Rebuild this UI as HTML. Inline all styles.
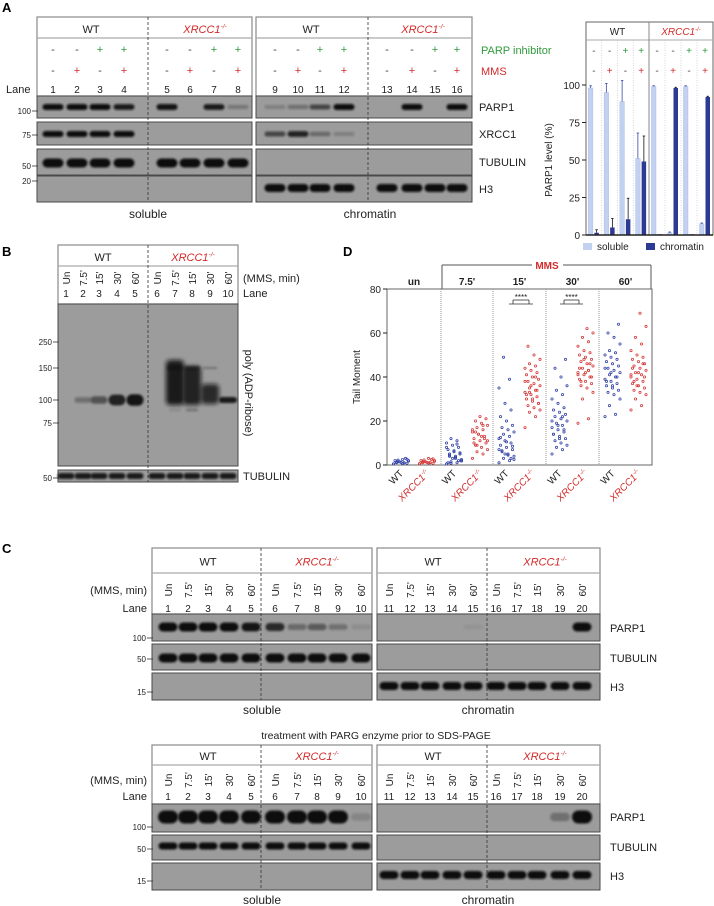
<!DOCTYPE html>
<html><head><meta charset="utf-8"><style>
html,body{margin:0;padding:0;background:#fff;}
svg{display:block;font-family:"Liberation Sans",Arial,sans-serif;}
</style></head><body>
<svg id="fig" width="714" height="906" viewBox="0 0 714 906" xmlns="http://www.w3.org/2000/svg">
<defs>
<filter id="blur" x="-30%" y="-80%" width="160%" height="260%"><feGaussianBlur stdDeviation="1.1"/></filter>
<filter id="blur2" x="-30%" y="-30%" width="160%" height="160%"><feGaussianBlur stdDeviation="2.2"/></filter>
</defs>
</svg>
<script>
// ---- bar chart data (panel A right) ----
const barGroups = ['WT - -','WT - +','WT + -','WT + +','XRCC1 - -','XRCC1 - +','XRCC1 + -','XRCC1 + +'];
const solubleVals = [98, 95, 89, 51, 99, 1.5, 99, 7.5];
const chromatinVals = [1.5, 5, 10.5, 49, 0.5, 98, 0.5, 92];
const solubleErr = [1.5, 6, 14, 17, 0.5, 0.5, 0.5, 0.5];
const chromatinErr = [2, 6, 14, 17, 0, 0.5, 0, 0.5];
const barTicks = [0, 25, 50, 75, 100];
// ---- scatter data (panel D) ----
const tmGroups = ['un', "7.5'", "15'", "30'", "60'"];
const tmTicks = [0, 20, 40, 60, 80];
const unWT = [0.5,1,1.5,2,2.5,1,0.8,1.2,2,3,1.5,0.5,1,2.2,1.8,0.7,1.3,2.6];
const unX = [0.5,1,1.5,2,3,1,0.8,1.2,2,2.5,1.5,0.6,1.1,2.3,1.7,0.9,1.4,2.8];
const m7WT = [0.5,1,1.5,2,3,4,5,6,7,8,9,10,11,12,2.5,3.5,4.5,5.5,6.5,1,2,3,8,9.5,0.8,1.8,4,5];
const m7X = [3,5,6,7,8,9,10,11,12,13,14,15,16,17,18,19,20,21,22,10,12,14,16,18,9,11,13,15];
const m15WT = [1,2,3,4,5,6,7,8,9,10,11,12,13,14,15,16,17,18,20,22,25,28,35,39,49,2.5,4.5,6.5,8.5,10.5,12.5,3,5,7];
const m15X = [17,22,24,25,26,27,28,29,30,31,32,33,34,35,36,37,38,39,40,41,42,43,44,45,46,48,50,54,28,30,32,34,36,38,40,33];
const m30WT = [5,7,8,9,10,11,12,13,14,15,16,17,18,19,20,21,22,23,24,25,26,28,30,32,34,36,40,44,48,12,14,16,18,20,22];
const m30X = [19,21,30,33,35,36,37,38,39,40,41,42,43,44,45,46,47,48,49,50,51,52,54,56,58,60,62,38,40,42,44,46,48,41,43];
const m60WT = [22,23,27,30,32,33,34,35,36,37,38,39,40,41,42,43,44,45,46,47,48,49,50,51,52,55,58,60,64,36,38,40,42,44];
const m60X = [25,27,30,32,33,34,35,36,37,38,39,40,41,42,43,44,45,46,47,48,49,50,52,55,58,63,69,38,40,42,44,46,36,41];

const NS = 'http://www.w3.org/2000/svg';
const svg = document.getElementById('fig');
function mk(tag, attrs, name, interact) {
  const el = document.createElementNS(NS, tag);
  for (const k in attrs) el.setAttribute(k, attrs[k]);
  
  
  svg.appendChild(el);
  return el;
}
function txt(x, y, s, name, o) {
  o = o || {};
  const a = {x: x, y: y, 'font-size': o.fs || 11, 'text-anchor': o.a || 'middle', fill: o.c || '#222'};
  if (o.w) a['font-weight'] = o.w;
  if (o.rot !== undefined) a.transform = 'rotate(' + o.rot + ' ' + x + ' ' + y + ')';
  const el = mk('text', a, name);
  el.textContent = s;
  return el;
}
function xr(x, y, name, fs, o) {
  o = o || {};
  const a = {x: x, y: y, 'font-size': fs || 11, 'text-anchor': o.a || 'middle', fill: '#d42a2a', 'font-style': 'italic'};
  if (o.rot !== undefined) a.transform = 'rotate(' + o.rot + ' ' + x + ' ' + y + ')';
  const el = mk('text', a, name);
  const t1 = document.createElementNS(NS, 'tspan'); t1.textContent = 'XRCC1';
  const t2 = document.createElementNS(NS, 'tspan'); t2.textContent = '-/-';
  t2.setAttribute('font-size', (fs || 11) * 0.6); t2.setAttribute('dy', -(fs || 11) * 0.4);
  el.appendChild(t1); el.appendChild(t2);
  return el;
}
function line(x1, y1, x2, y2, name, st, w, dash) {
  const a = {x1: x1, y1: y1, x2: x2, y2: y2, stroke: st || '#444', 'stroke-width': w || 1};
  if (dash) a['stroke-dasharray'] = dash;
  return mk('line', a, name);
}
function headerBox(x1, x2, yT, yL, yB, name) {
  mk('rect', {x: x1, y: yT, width: x2 - x1, height: yB - yT, fill: '#fff', stroke: '#8a8a8a', 'stroke-width': 1.2}, name);
  line(x1, yL, x2, yL, name + '-divider', '#aaa', 1.2);
}
function blot(x1, y1, x2, y2, name) {
  mk('rect', {x: x1, y: y1, width: x2 - x1, height: y2 - y1, fill: '#9c9c9c', stroke: '#4a4a4a', 'stroke-width': 1}, name);
}
function band(cx, cy, w, h, op, name) {
  if (op <= 0) return;
  mk('rect', {x: cx - w / 2, y: cy - h / 2, width: w, height: h, rx: h / 2, fill: '#111', opacity: op, filter: 'url(#blur)'}, name);
}
function mw(x, y, s, name) {
  txt(x - 6, y + 3, s, name, {fs: 8, a: 'end'});
  line(x - 5, y, x + 1, y, name + '-tick', '#333', 0.8);
}

// ================= PANEL A =================
txt(2, 12, 'A', 'panel-a-label', {fs: 13, w: 'bold', a: 'start', c: '#000'});
headerBox(37, 252, 17, 38, 96, 'a-soluble-header');
headerBox(256, 472, 17, 38, 96, 'a-chromatin-header');
txt(91, 33, 'WT', 'a-wt-soluble');
xr(205, 33, 'a-xrcc1-soluble');
txt(311, 33, 'WT', 'a-wt-chromatin');
xr(423, 33, 'a-xrcc1-chromatin');
const lanesA = [53,77,100,124,167,190,214,238,275,298,320,344,387,412,435,457];
lanesA.forEach((x, i) => {
  const p = (i % 4) >= 2, m = (i % 2) === 1;
  txt(x, 53, p ? '+' : '-', 'a-parpi-sign', {fs: 11, c: p ? '#2f9a3c' : '#444'});
  txt(x, 74, m ? '+' : '-', 'a-mms-sign', {fs: 11, c: m ? '#d42a2a' : '#444'});
  txt(x, 93, String(i + 1), 'a-lane-number', {fs: 10});
});
txt(6, 93, 'Lane', 'a-lane-label', {a: 'start'});
txt(481, 54, 'PARP inhibitor', 'a-parp-inhibitor-label', {a: 'start', c: '#2f9a3c'});
txt(481, 75, 'MMS', 'a-mms-label', {a: 'start', c: '#d42a2a'});
const rowsA = [[96,118],[122,145],[149,175],[176,202]];
rowsA.forEach((r, k) => {
  blot(37, r[0], 252, r[1], 'a-blot-soluble');
  blot(256, r[0], 472, r[1], 'a-blot-chromatin');
});
const bandA = [
  {y: 107, h: 6, v: [1,1,1,.9,.95,0,.9,.25,.2,.3,.6,1,0,1,0,1], n: 'a-parp1-band'},
  {y: 134, h: 6, v: [1,1,1,1,0,0,0,0,.6,.85,.35,.2,0,0,0,0], n: 'a-xrcc1-band'},
  {y: 163, h: 9, v: [1,1,1,1,1,1,1,1,0,0,0,0,0,0,0,0], n: 'a-tubulin-band'},
  {y: 188, h: 8, v: [0,0,0,0,0,0,0,0,1,1,1,1,1,1,1,1], n: 'a-h3-band'}
];
bandA.forEach(b => lanesA.forEach((x, i) => band(x, b.y, 21, b.h * (0.6 + 0.4 * b.v[i]), b.v[i], b.n)));
line(148, 17, 148, 202, 'a-divider-soluble', '#333', 0.8, '3,2');
line(368, 17, 368, 202, 'a-divider-chromatin', '#333', 0.8, '3,2');
txt(479, 111, 'PARP1', 'a-parp1-label', {a: 'start'});
txt(479, 138, 'XRCC1', 'a-xrcc1-label', {a: 'start'});
txt(479, 166, 'TUBULIN', 'a-tubulin-label', {a: 'start'});
txt(479, 193, 'H3', 'a-h3-label', {a: 'start'});
mw(37, 111, '100', 'a-mw-100'); mw(37, 135, '75', 'a-mw-75'); mw(37, 166, '50', 'a-mw-50'); mw(37, 181, '20', 'a-mw-20');
txt(148, 218, 'soluble', 'a-soluble-label', {fs: 12});
txt(370, 218, 'chromatin', 'a-chromatin-label', {fs: 12});

// ---- bar chart ----
const bX0 = 586, bX1 = 713, bMid = 649, bY0 = 235, bY100 = 85;
function by(v) { return bY0 - (v / 100) * (bY0 - bY100); }
function bcx(i) { return i < 4 ? bX0 + (i + 0.5) * (bMid - bX0) / 4 : bMid + (i - 4 + 0.5) * (bX1 - bMid) / 4; }
mk('rect', {x: bX0, y: 22, width: bX1 - bX0, height: bY0 - 22, fill: '#fff', stroke: '#666', 'stroke-width': 1}, 'bar-plot-frame');
line(bX0, 40, bX1, 40, 'bar-header-divider', '#aaa', 1);
line(bMid, 22, bMid, bY0, 'bar-genotype-divider', '#888', 1);
for (let i = 1; i < 8; i++) if (i !== 4) line((bcx(i - 1) + bcx(i)) / 2, 40, (bcx(i - 1) + bcx(i)) / 2, bY0, 'bar-group-gridline', '#bbb', 0.6, '1,1.5');
txt((bX0 + bMid) / 2, 35, 'WT', 'bar-wt-header', {fs: 10});
xr((bMid + bX1) / 2, 35, 'bar-xrcc1-header', 10);
barGroups.forEach((g, i) => {
  const p = (i % 4) >= 2, m = (i % 2) === 1;
  txt(bcx(i), 54, p ? '+' : '-', 'bar-parpi-sign', {fs: 10, c: p ? '#2f9a3c' : '#444'});
  txt(bcx(i), 74, m ? '+' : '-', 'bar-mms-sign', {fs: 10, c: m ? '#d42a2a' : '#444'});
  const xs = bcx(i) - 5.5, xc = bcx(i) + 0.5;
  mk('rect', {x: xs, y: by(solubleVals[i]), width: 4.5, height: bY0 - by(solubleVals[i]), fill: '#c3d1f0', stroke: '#9fb3e3', 'stroke-width': 0.4}, 'bar-soluble');
  mk('rect', {x: xc, y: by(chromatinVals[i]), width: 4.5, height: bY0 - by(chromatinVals[i]), fill: '#2c3a94'}, 'bar-chromatin');
  if (solubleErr[i] > 0.2) {
    line(xs + 2.25, by(solubleVals[i]), xs + 2.25, by(solubleVals[i] + solubleErr[i]), 'bar-soluble-error', '#3b4ba8', 0.8);
    line(xs + 1, by(solubleVals[i] + solubleErr[i]), xs + 3.5, by(solubleVals[i] + solubleErr[i]), 'bar-soluble-error-cap', '#3b4ba8', 0.8);
  }
  if (chromatinErr[i] > 0.2) {
    line(xc + 2.25, by(chromatinVals[i]), xc + 2.25, by(chromatinVals[i] + chromatinErr[i]), 'bar-chromatin-error', '#111', 0.8);
    line(xc + 1, by(chromatinVals[i] + chromatinErr[i]), xc + 3.5, by(chromatinVals[i] + chromatinErr[i]), 'bar-chromatin-error-cap', '#111', 0.8);
  }
});
line(bX0, bY0, bX1, bY0, 'bar-x-axis', '#222', 1.5);
barTicks.forEach(t => {
  line(bX0 - 4, by(t), bX0, by(t), 'bar-y-tick', '#222', 1);
  txt(bX0 - 6, by(t) + 4, String(t), 'bar-y-tick-label', {fs: 10, a: 'end'});
});
txt(552, 160, 'PARP1 level (%)', 'bar-y-axis-title', {fs: 10, rot: -90});
mk('rect', {x: 583, y: 243, width: 9, height: 7, fill: '#c3d1f0'}, 'legend-soluble-swatch');
txt(597, 250, 'soluble', 'legend-soluble-label', {fs: 10, a: 'start'});
mk('rect', {x: 646, y: 243, width: 9, height: 7, fill: '#2c3a94'}, 'legend-chromatin-swatch');
txt(660, 250, 'chromatin', 'legend-chromatin-label', {fs: 10, a: 'start'});

// ================= PANEL B =================
txt(2, 256, 'B', 'panel-b-label', {fs: 13, w: 'bold', a: 'start', c: '#000'});
headerBox(58, 238, 245, 266, 304, 'b-header');
txt(103, 261, 'WT', 'b-wt-header');
xr(193, 261, 'b-xrcc1-header');
const times = ['Un', "7.5'", "15'", "30'", "60'"];
const lanesB = [66,83,99,117,135,157,175,192,210,228];
lanesB.forEach((x, i) => {
  txt(x + 4, 278, times[i % 5], 'b-time-label', {fs: 10, rot: -90});
  txt(x, 297, String(i + 1), 'b-lane-number', {fs: 10});
});
txt(243, 282, '(MMS, min)', 'b-mms-label', {a: 'start'});
txt(243, 297, 'Lane', 'b-lane-label', {a: 'start'});
blot(58, 304, 238, 466, 'b-par-blot');
blot(58, 470, 238, 482, 'b-tubulin-blot');
const parB = [0, .3, .5, .85, .95];
parB.forEach((v, i) => band(lanesB[i], 400, 17, 3 + 9 * v, v, 'b-par-band'));
[[175, 360, 45], [192, 366, 39], [210, 384, 20]].forEach((s, k) => {
  mk('rect', {x: s[0] - 9, y: s[1], width: 18, height: s[2], rx: 4, fill: '#111', opacity: 0.9 - k * 0.05, filter: 'url(#blur2)'}, 'b-par-smear');
});
band(175, 368, 16, 3, .6, 'b-par-band-150'); band(192, 368, 16, 3, .6, 'b-par-band-150'); band(210, 368, 14, 2, .3, 'b-par-band-150');
band(175, 410, 12, 2, .15, 'b-par-faint'); band(192, 410, 12, 3, .25, 'b-par-faint');
band(228, 400, 18, 6, .9, 'b-par-band');
lanesB.forEach(x => band(x, 476, 17, 6, .9, 'b-tubulin-band'));
line(148, 245, 148, 482, 'b-divider', '#333', 0.8, '3,2');
mw(58, 342, '250', 'b-mw-250'); mw(58, 368, '150', 'b-mw-150'); mw(58, 400, '100', 'b-mw-100'); mw(58, 423, '75', 'b-mw-75'); mw(58, 478, '50', 'b-mw-50');
txt(245, 393, 'poly (ADP-ribose)', 'b-par-label', {rot: 90});
txt(243, 480, 'TUBULIN', 'b-tubulin-label', {a: 'start'});

// ================= PANEL D =================
txt(343, 256, 'D', 'panel-d-label', {fs: 13, w: 'bold', a: 'start', c: '#000'});
const dL = 387, dR = 652, dT = 289, dB = 465;
const dDiv = [387, 441, 493, 546, 599, 652];
function dy(v) { return dB - (v / 80) * (dB - dT); }
line(442, 265, 532, 265, 'mms-bracket-left', '#555', 1);
line(563, 265, 651, 265, 'mms-bracket-right', '#555', 1);
line(442, 265, 442, dT, 'mms-bracket-left-side', '#555', 1);
line(651, 265, 651, dT, 'mms-bracket-right-side', '#555', 1);
txt(547, 269, 'MMS', 'd-mms-label', {fs: 10, w: 'bold', c: '#d42a2a'});
mk('rect', {x: dL, y: dT, width: dR - dL, height: dB - dT, fill: 'none', stroke: '#666', 'stroke-width': 1}, 'd-plot-frame');
for (let k = 1; k < 5; k++) line(dDiv[k], dT, dDiv[k], dB, 'd-group-divider', '#999', 1, '1,1');
const scat = [[unWT, unX], [m7WT, m7X], [m15WT, m15X], [m30WT, m30X], [m60WT, m60X]];
tmGroups.forEach((g, k) => {
  const c = (dDiv[k] + dDiv[k + 1]) / 2;
  txt(c, 285, g, 'd-time-header', {fs: 10, w: 'bold'});
  [c - 13, c + 13].forEach((cx, j) => {
    const arr = scat[k][j];
    arr.forEach((v, i) => {
      const jit = (((i * 7) % 11) - 5) * 1.5;
      mk('circle', {cx: cx + jit, cy: dy(v), r: 1.1, fill: 'none', stroke: j ? '#d43a3a' : '#3342a6', 'stroke-width': 0.8}, j ? 'd-point-xrcc1' : 'd-point-wt');
    });
    if (j === 0) txt(cx + 3, 474, 'WT', 'd-x-label-wt', {fs: 10, a: 'end', rot: -45});
    else xr(cx + 3, 474, 'd-x-label-xrcc1', 10, {a: 'end', rot: -45});
  });
});
tmTicks.forEach(t => {
  line(dL - 4, dy(t), dL, dy(t), 'd-y-tick', '#222', 1);
  txt(dL - 6, dy(t) + 4, String(t), 'd-y-tick-label', {fs: 10, a: 'end'});
});
txt(360, 377, 'Tail Moment', 'd-y-axis-title', {fs: 10, rot: -90});
[[509, 533, 519], [560, 583, 571]].forEach(b => {
  line(b[0], 304, b[1], 304, 'sig-bracket-base', '#333', 0.8);
  line(b[0] + 4, 300, b[1] - 4, 300, 'sig-bracket-top', '#333', 0.8);
  line(b[0] + 4, 300, b[0] + 4, 304, 'sig-bracket-side', '#333', 0.8);
  line(b[1] - 4, 300, b[1] - 4, 304, 'sig-bracket-side', '#333', 0.8);
  txt((b[0] + b[1]) / 2, 300, '****', 'sig-stars', {fs: 8});
});

// ================= PANEL C =================
txt(2, 553, 'C', 'panel-c-label', {fs: 13, w: 'bold', a: 'start', c: '#000'});
const lanesC = [168,188,208,229,251,275,297,317,338,361,389,410,430,452,473,496,517,537,560,582];
function panelC(top, hl, tY, lY, rows, labY, mws, bands, capY, pre) {
  headerBox(152, 372, top, hl, rows[0][0], pre + '-soluble-header');
  headerBox(377, 600, top, hl, rows[0][0], pre + '-chromatin-header');
  txt(208, (top + hl) / 2 + 5, 'WT', pre + '-wt-soluble');
  xr(317, (top + hl) / 2 + 5, pre + '-xrcc1-soluble');
  txt(433, (top + hl) / 2 + 5, 'WT', pre + '-wt-chromatin');
  xr(545, (top + hl) / 2 + 5, pre + '-xrcc1-chromatin');
  lanesC.forEach((x, i) => {
    txt(x + 4, tY, times[i % 5], pre + '-time-label', {fs: 10, rot: -90});
    txt(x, lY, String(i + 1), pre + '-lane-number', {fs: 10});
  });
  txt(147, tY + 4, '(MMS, min)', pre + '-mms-label', {a: 'end'});
  txt(147, lY, 'Lane', pre + '-lane-label', {a: 'end'});
  rows.forEach(r => { blot(152, r[0], 372, r[1], pre + '-blot-soluble'); blot(377, r[0], 600, r[1], pre + '-blot-chromatin'); });
  bands.forEach(b => lanesC.forEach((x, i) => band(x, b.y, b.w || 19, b.h * (0.5 + 0.5 * b.v[i]), b.v[i], pre + b.n)));
  line(261, top, 261, rows[2][1], pre + '-divider-soluble', '#333', 0.8, '3,2');
  line(487, top, 487, rows[2][1], pre + '-divider-chromatin', '#333', 0.8, '3,2');
  ['PARP1', 'TUBULIN', 'H3'].forEach((s, k) => txt(610, labY[k], s, pre + '-' + s.toLowerCase() + '-label', {a: 'start'}));
  mw(152, mws[0], '100', pre + '-mw-100'); mw(152, mws[1], '50', pre + '-mw-50'); mw(152, mws[2], '15', pre + '-mw-15');
  txt(262, capY, 'soluble', pre + '-soluble-label', {fs: 12});
  txt(488, capY, 'chromatin', pre + '-chromatin-label', {fs: 12});
}
const z10 = [0,0,0,0,0,0,0,0,0,0];
const o10 = [1,1,1,1,1,1,1,1,1,1];
panelC(548, 573, 590, 612, [[614,641],[644,670],[673,700]], [632, 662, 691], [638, 659, 692], [
  {y: 627, h: 9, v: [1,1,1,1,.95,.8,.35,.45,.3,.1].concat([0,0,0,0,.05,0,0,0,0,1]), n: '-parp1-band'},
  {y: 658, h: 9, v: o10.concat(z10), n: '-tubulin-band'},
  {y: 686, h: 8, v: z10.concat(o10), n: '-h3-band'}
], 714, 'c1');
txt(376, 739, 'treatment with PARG enzyme prior to SDS-PAGE', 'c-parg-caption', {fs: 10.5});
panelC(745, 765, 780, 800, [[804,832],[835,860],[863,890]], [821, 851, 880], [827, 849, 881], [
  {y: 817, h: 13, w: 20, v: [1,1,1,1,1,1,1,1,1,.15].concat([0,0,0,0,0,0,0,0,.3,1]), n: '-parp1-band'},
  {y: 846, h: 7, v: o10.concat(z10), n: '-tubulin-band'},
  {y: 875, h: 8, v: z10.concat(o10), n: '-h3-band'}
], 904, 'c2');
</script>
</body></html>
